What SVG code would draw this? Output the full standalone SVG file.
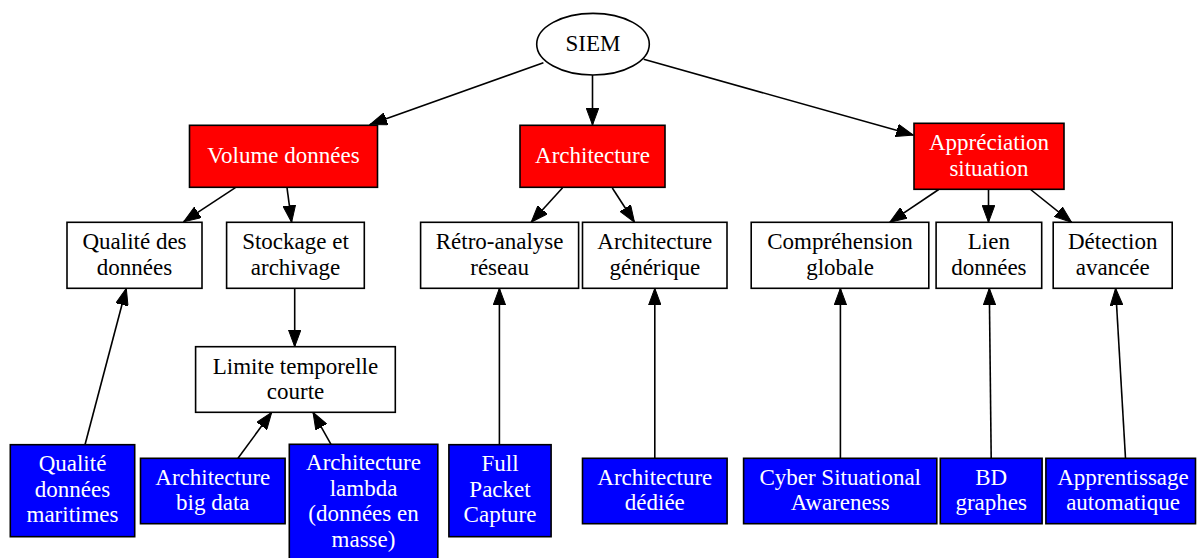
<svg xmlns="http://www.w3.org/2000/svg" width="1197" height="558" viewBox="0 0 1197 558">
  <style>
    text { font-family: "Liberation Serif", "Times New Roman", serif; font-size: 23px; text-anchor: middle; }
    .plain rect, .plain ellipse { fill: #ffffff; stroke: #000000; stroke-width: 1.6; }
    .plain text { fill: #000000; }
    .topic rect { fill: #ff0000; stroke: #000000; stroke-width: 1.6; }
    .topic text { fill: #ffffff; }
    .tool rect { fill: #0000ff; stroke: #000000; stroke-width: 1.6; }
    .tool text { fill: #ffffff; }
    #edges path { fill: none; stroke: #000000; stroke-width: 1.6; marker-end: url(#arrow); }
  </style>
  <defs>
    <marker id="arrow" viewBox="0 0 18 13" refX="17" refY="6.5" markerWidth="18" markerHeight="13" markerUnits="userSpaceOnUse" orient="auto">
      <path d="M0,0.2 L17,6.5 L0,12.8 Z" fill="#000000" stroke="#000000" stroke-width="1"/>
    </marker>
  </defs>

  <rect width="1197" height="558" fill="#ffffff"/>

  <!-- connectors -->
  <g id="edges">
    <path d="M543.4,62.7 L370,124.5"/>
    <path d="M592.5,75 L592.5,125"/>
    <path d="M643.7,59.3 L913.3,135"/>
    <path d="M235.4,187.7 L183.7,221.7"/>
    <path d="M287,187.7 L291.6,222.3"/>
    <path d="M562.6,187.7 L531.2,222.3"/>
    <path d="M612.3,188 L634.5,222.3"/>
    <path d="M938.7,189.5 L889.8,222.3"/>
    <path d="M988.5,189.5 L988.5,222.3"/>
    <path d="M1030.6,189.5 L1071.6,222.3"/>
    <path d="M294.7,288.3 L294.7,346.7"/>
    <path d="M85,444.7 L126.3,288.3"/>
    <path d="M238,458.3 L271.7,412.3"/>
    <path d="M331,444.3 L313,412.3"/>
    <path d="M499.4,444.7 L499.4,288.3"/>
    <path d="M654.8,458.3 L654.8,288.3"/>
    <path d="M840.4,458.3 L840.4,288.3"/>
    <path d="M991.2,458.3 L989.3,288.3"/>
    <path d="M1125.5,458.3 L1115.6,288.3"/>
  </g>

  <!-- root -->
  <g id="siem" class="plain">
    <ellipse cx="593" cy="44.2" rx="56.3" ry="30.8"/>
    <text x="593" y="50.7">SIEM</text>
  </g>

  <!-- main topics -->
  <g id="volume" class="topic">
    <rect x="189.5" y="125.3" width="188" height="62"/>
    <text x="283.5" y="162.7">Volume données</text>
  </g>
  <g id="architecture" class="topic">
    <rect x="520" y="125.3" width="145" height="62"/>
    <text x="592.5" y="162.7">Architecture</text>
  </g>
  <g id="appreciation" class="topic">
    <rect x="914" y="123.3" width="150" height="66"/>
    <text x="989" y="150">Appréciation</text>
    <text x="989" y="175.5">situation</text>
  </g>

  <!-- sub-topics -->
  <g id="qualite" class="plain">
    <rect x="67" y="222.3" width="135" height="66"/>
    <text x="134.5" y="249">Qualité des</text>
    <text x="134.5" y="274.5">données</text>
  </g>
  <g id="stockage" class="plain">
    <rect x="226.6" y="222.3" width="137.7" height="66"/>
    <text x="295.5" y="249">Stockage et</text>
    <text x="295.5" y="274.5">archivage</text>
  </g>
  <g id="retro" class="plain">
    <rect x="420.6" y="222.3" width="158" height="66"/>
    <text x="499.6" y="249">Rétro-analyse</text>
    <text x="499.6" y="274.5">réseau</text>
  </g>
  <g id="generique" class="plain">
    <rect x="582.5" y="222.3" width="144.5" height="66"/>
    <text x="654.8" y="249">Architecture</text>
    <text x="654.8" y="274.5">générique</text>
  </g>
  <g id="comprehension" class="plain">
    <rect x="751.2" y="222.3" width="177.6" height="66"/>
    <text x="840" y="249">Compréhension</text>
    <text x="840" y="274.5">globale</text>
  </g>
  <g id="lien" class="plain">
    <rect x="936.1" y="222.3" width="105.6" height="66"/>
    <text x="988.9" y="249">Lien</text>
    <text x="988.9" y="274.5">données</text>
  </g>
  <g id="detection" class="plain">
    <rect x="1053.2" y="222.3" width="119" height="66"/>
    <text x="1112.7" y="249">Détection</text>
    <text x="1112.7" y="274.5">avancée</text>
  </g>
  <g id="limite" class="plain">
    <rect x="195.6" y="346.7" width="199.7" height="65.6"/>
    <text x="295.5" y="373.5">Limite temporelle</text>
    <text x="295.5" y="399">courte</text>
  </g>

  <!-- tools / approaches -->
  <g id="maritimes" class="tool">
    <rect x="10.3" y="444.7" width="124.4" height="92"/>
    <text x="72.5" y="471">Qualité</text>
    <text x="72.5" y="496.5">données</text>
    <text x="72.5" y="522">maritimes</text>
  </g>
  <g id="bigdata" class="tool">
    <rect x="140.5" y="458.3" width="144.6" height="65.4"/>
    <text x="212.8" y="484.8">Architecture</text>
    <text x="212.8" y="510.3">big data</text>
  </g>
  <g id="lambda" class="tool">
    <rect x="289.3" y="444.3" width="148.5" height="116"/>
    <text x="363.5" y="470">Architecture</text>
    <text x="363.5" y="495.5">lambda</text>
    <text x="363.5" y="521">(données en</text>
    <text x="363.5" y="546.5">masse)</text>
  </g>
  <g id="fpc" class="tool">
    <rect x="448.9" y="444.7" width="102.2" height="92"/>
    <text x="500" y="471">Full</text>
    <text x="500" y="496.5">Packet</text>
    <text x="500" y="522">Capture</text>
  </g>
  <g id="dediee" class="tool">
    <rect x="582.5" y="458.3" width="144.6" height="65.4"/>
    <text x="654.8" y="484.8">Architecture</text>
    <text x="654.8" y="510.3">dédiée</text>
  </g>
  <g id="csa" class="tool">
    <rect x="743.6" y="458.3" width="193.2" height="65.4"/>
    <text x="840.2" y="484.8">Cyber Situational</text>
    <text x="840.2" y="510.3">Awareness</text>
  </g>
  <g id="bdgraphes" class="tool">
    <rect x="940.3" y="458.3" width="101.8" height="65.4"/>
    <text x="991.2" y="484.8">BD</text>
    <text x="991.2" y="510.3">graphes</text>
  </g>
  <g id="apprentissage" class="tool">
    <rect x="1045.9" y="458.3" width="149.6" height="65.4"/>
    <text x="1123" y="484.8">Apprentissage</text>
    <text x="1123" y="510.3">automatique</text>
  </g>
</svg>
